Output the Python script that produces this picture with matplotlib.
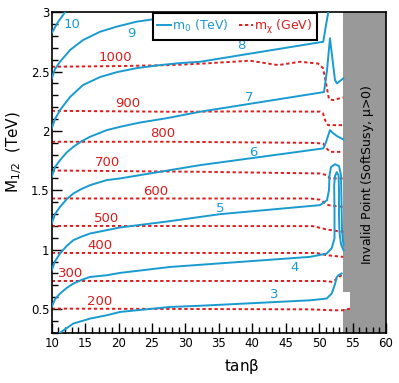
import numpy as np
import matplotlib
matplotlib.use("Agg")
import matplotlib.pyplot as plt
from matplotlib.lines import Line2D
from matplotlib.patches import Polygon
from matplotlib.ticker import MultipleLocator

plt.rcParams['font.family'] = ['DejaVu Sans']
plt.rcParams['mathtext.default'] = 'regular'

# -- m0 contours (TeV): tan(beta), M1/2
m0_levels = [3, 4, 5, 6, 7, 8, 9, 10]
m0_tb = {
    10: [10, 10.94, 11.99],
    9: [10, 10.49, 11.24, 12.74, 14.68, 17.22, 19.72, 22.71, 25.15, 27.69, 29.94],
    8: [10, 10.49, 11.24, 12.74, 14.68, 17.22, 19.77, 22.76, 26.2, 29.19, 32.18, 50.62, 50.95, 51.37],
    7: [10, 10.49, 11.24, 12.24, 13.23, 14.48, 15.73, 18.23, 20.22, 23.21, 27.24, 32.18, 50.73,
        51.18, 51.62, 51.92, 52.37, 52.67, 53.61],
    6: [10, 10.49, 11.24, 12.24, 13.23, 14.48, 15.73, 18.23, 20.22, 27.69, 32.18, 50.62, 51.03,
        51.62, 52.07, 52.67, 53.61],
    5: [10, 10.49, 11.24, 12.24, 13.23, 14.48, 15.73, 18.23, 20.22, 27.69, 35.17, 50.13, 51.18,
        51.47, 51.55, 51.77, 52.37, 52.97, 53.27, 53.34, 53.42, 53.64],
    4: [10, 10.49, 11.24, 12.24, 13.23, 14.48, 15.73, 18.23, 20.22, 27.69, 48.63, 51.13, 51.88,
        52.30, 52.30, 52.25, 52.37, 52.63, 52.90, 52.97, 52.97, 53.04, 53.27, 53.64],
    3: [11.02, 13.23, 15.73, 18.23, 20.22, 27.69, 32.18, 48.63, 51.13, 51.88, 52.37, 52.63,
        52.87, 53.37],
}
m0_M = {
    10: [2.825, 2.918, 3.0],
    9: [2.443, 2.522, 2.583, 2.682, 2.766, 2.836, 2.879, 2.921, 2.941, 2.981, 3.0],
    8: [2.022, 2.100, 2.176, 2.286, 2.387, 2.454, 2.496, 2.530, 2.555, 2.572, 2.583, 2.752, 2.868, 3.0],
    7: [1.613, 1.695, 1.754, 1.819, 1.866, 1.914, 1.951, 2.007, 2.035, 2.071, 2.108, 2.162, 2.328,
        2.513, 2.781, 2.640, 2.429, 2.401, 2.443],
    6: [1.220, 1.299, 1.360, 1.425, 1.473, 1.512, 1.543, 1.586, 1.600, 1.670, 1.712, 1.853, 1.906,
        2.007, 1.982, 1.957, 1.929],
    5: [0.826, 0.902, 0.967, 1.031, 1.080, 1.110, 1.136, 1.164, 1.187, 1.240, 1.299, 1.375, 1.417,
        1.501, 1.628, 1.695, 1.720, 1.704, 1.628, 1.417, 1.164, 1.037],
    4: [0.517, 0.582, 0.630, 0.677, 0.714, 0.745, 0.770, 0.784, 0.804, 0.854, 0.939, 0.967, 1.012,
        1.096, 1.332, 1.543, 1.619, 1.653, 1.628, 1.501, 1.290, 1.147, 1.046, 0.995],
    3: [0.291, 0.377, 0.419, 0.447, 0.475, 0.517, 0.527, 0.573, 0.588, 0.630, 0.708, 0.767, 0.784, 0.799],
}

# -- neutralino mass contours (GeV)
mchi_levels = [200, 300, 400, 500, 600, 700, 800, 900, 1000]
mchi_tb = {
    1000: [10, 20.22, 27.69, 32.63, 39.66, 43.85, 47.14, 49.83, 50.58, 51.03, 51.47, 52.07, 53.61],
    900: [10, 27.69, 40.0, 50.13, 50.58, 50.88, 51.33, 53.61],
    800: [10, 27.69, 48.63, 50.58, 51.13, 51.62, 53.57],
    700: [10, 32.18, 50.13, 51.13, 51.62, 53.61],
    600: [10, 48.63, 50.13, 51.37, 53.61],
    500: [10, 49.08, 51.13, 53.61],
    400: [10, 49.64, 51.13, 53.61],
    300: [10, 50.58, 52.07, 52.63, 53.37],
    200: [10, 48.63, 52.07, 53.57, 54.61],
}
mchi_M = {
    1000: [2.541, 2.547, 2.555, 2.568, 2.592, 2.555, 2.583, 2.568, 2.530, 2.404, 2.269, 2.260, 2.283],
    900: [2.170, 2.162, 2.165, 2.163, 2.148, 2.092, 2.049, 2.049],
    800: [1.909, 1.909, 1.900, 1.895, 1.853, 1.824, 1.824],
    700: [1.667, 1.656, 1.642, 1.628, 1.600, 1.600],
    600: [1.431, 1.431, 1.421, 1.375, 1.360],
    500: [1.200, 1.198, 1.170, 1.149],
    400: [0.972, 0.972, 0.953, 0.939],
    300: [0.736, 0.736, 0.728, 0.756, 0.784],
    200: [0.503, 0.497, 0.489, 0.489, 0.503],
}

# label positions
m0_lab = {10: (13.04, 2.901), 9: (21.86, 2.825), 8: (38.33, 2.724), 7: (39.58, 2.286),
          6: (40.12, 1.822), 5: (35.25, 1.349), 4: (46.32, 0.852), 3: (43.32, 0.620)}
mchi_lab = {1000: (19.47, 2.615), 900: (21.34, 2.235), 800: (26.57, 1.982), 700: (18.35, 1.737),
            600: (25.57, 1.489), 500: (18.27, 1.265), 400: (17.22, 1.037), 300: (12.89, 0.801),
            200: (17.22, 0.565)}

# invalid region (SoftSusy, mu>0)
invalid_tb = [53.62, 60, 60, 53.62, 53.62, 54.61, 54.61, 53.62]
invalid_M = [3.0, 3.0, 0.3, 0.3, 0.50, 0.50, 0.643, 0.643]

c_m0 = '#1a9bd0'
c_chi = '#dd1c1c'

fig = plt.figure(figsize=(3.99, 3.83), dpi=100)
ax = fig.add_axes([0.1296, 0.1313, 0.8378, 0.8366])

ax.add_patch(Polygon(np.column_stack([invalid_tb, invalid_M]), closed=True,
                     facecolor='#999999', edgecolor='none', zorder=1))
ax.text(57.3, 1.63, r'Invalid Point (SoftSusy, $\mu$>0)', rotation=90, fontsize=9,
        ha='center', va='center', zorder=5)

for lev in mchi_levels:
    ax.plot(mchi_tb[lev], mchi_M[lev], color=c_chi, lw=1.4, ls=(0, (1.7, 1.4)), zorder=2)
    ax.text(*mchi_lab[lev], str(lev), color=c_chi, fontsize=9.5, ha='center', va='center')

for lev in m0_levels:
    ax.plot(m0_tb[lev], m0_M[lev], color=c_m0, lw=1.4, zorder=3)
    ax.text(*m0_lab[lev], str(lev), color=c_m0, fontsize=9.5, ha='center', va='center')

ax.set_xlim(10, 60)
ax.set_ylim(0.3, 3)
ax.xaxis.set_major_locator(MultipleLocator(5))
ax.xaxis.set_minor_locator(MultipleLocator(1))
ax.yaxis.set_major_locator(MultipleLocator(0.5))
ax.yaxis.set_minor_locator(MultipleLocator(0.1))
ax.tick_params(which='both', direction='in', top=False, right=False, labelsize=8.5, width=1)
ax.tick_params(which='major', length=7)
ax.tick_params(which='minor', length=4)
ax.tick_params(axis='y', pad=1.5)
ax.tick_params(axis='x', pad=3)
ax.set_yticks([0.5, 1, 1.5, 2, 2.5, 3])
ax.set_yticklabels(['0.5', '1', '1.5', '2', '2.5', '3'])
for s in ax.spines.values():
    s.set_linewidth(1.2)

ax.set_xlabel(r'tan$\beta$', fontsize=11)
ax.xaxis.set_label_coords(0.569, -0.076)
ax.set_ylabel(r'$M_{1/2}$  (TeV)', fontsize=11)
ax.yaxis.set_label_coords(-0.083, 0.564)

handles = [Line2D([], [], color=c_m0, lw=1.4),
           Line2D([], [], color=c_chi, lw=1.4, ls=(0, (1.7, 1.4)))]
leg = ax.legend(handles, [r'$m_0$ (TeV)', r'$m_\chi$ (GeV)'], ncol=2, loc='upper left',
                bbox_to_anchor=(0.303, 0.997), borderaxespad=0, fontsize=9,
                handlelength=1.1, handletextpad=0.1, columnspacing=0.8, borderpad=0.35,
                fancybox=False, framealpha=1, edgecolor='black', labelcolor=[c_m0, c_chi])
leg.get_frame().set_linewidth(1.5)
leg.set_zorder(6)

fig.savefig('out.png', dpi=100)
